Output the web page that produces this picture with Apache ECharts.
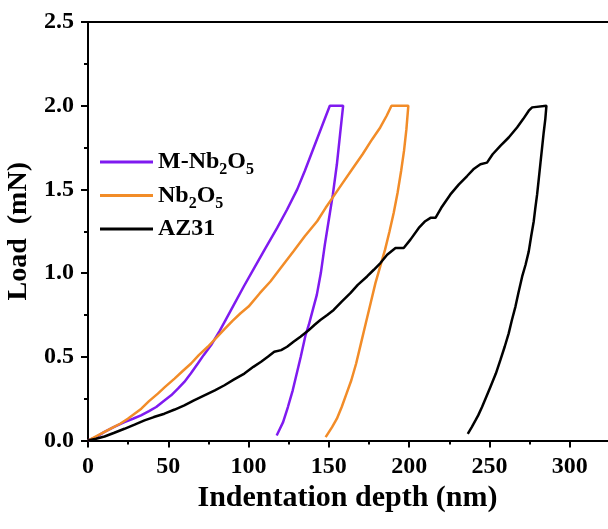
<!DOCTYPE html>
<html>
<head>
<meta charset="utf-8">
<script src="https://cdn.jsdelivr.net/npm/echarts@6/dist/echarts.min.js"></script>
<style>
html,body{margin:0;padding:0;background:#fff;}
#chart{width:608px;height:529px;}
</style>
</head>
<body>
<div id="chart"></div>
<script>
// ---- Data ----
var seriesNames = ['M-Nb2O5', 'Nb2O5', 'AZ31'];

// M-Nb2O5: loading, hold, unloading
var mDepth = [0,5,10,16,22.7,28,33,38,42.5,47,51.8,56,60,64,68.4,72,76.7,82,86,90.8,97,103.2,110,117.8,124,130.3,135,139,143,147,150.6,158.9,
              157,155,152.5,150,147.5,145,142.5,140,137.5,135.5,132.5,130,127.5,124.5,121.5,119,117.5];
var mLoad  = [0,0.02,0.05,0.08,0.11,0.13,0.15,0.175,0.20,0.235,0.27,0.31,0.35,0.40,0.46,0.51,0.57,0.655,0.725,0.81,0.92,1.025,1.14,1.27,1.38,1.50,1.61,1.71,1.81,1.91,2.0,2.0,
              1.83,1.65,1.47,1.32,1.17,1.0,0.87,0.78,0.69,0.63,0.50,0.40,0.30,0.20,0.11,0.06,0.03];

// Nb2O5: loading, hold, unloading
var nDepth = [0,5,10,15,20,24.8,29,33.2,38,43.5,48,53.9,59,64.2,69,74.6,80,85,90,95,100,107,113.6,120,128,135,142.7,148,153,158,164.5,171,177,182,186,189,199.5,
              198.3,196.8,195,192.8,190.4,187.8,185,182,179,176,173,170,167,164,161,158,155,152,150,148];
var nLoad  = [0,0.025,0.05,0.075,0.10,0.13,0.16,0.19,0.235,0.28,0.32,0.37,0.415,0.46,0.51,0.56,0.615,0.665,0.715,0.76,0.80,0.88,0.95,1.03,1.13,1.22,1.31,1.39,1.46,1.53,1.62,1.71,1.80,1.87,1.94,2.0,2.0,
              1.86,1.73,1.61,1.48,1.36,1.25,1.14,1.04,0.94,0.82,0.70,0.58,0.46,0.36,0.28,0.20,0.13,0.08,0.05,0.02];

// AZ31: loading, hold, unloading
var azDepth = [0,5,10.3,16,22.7,29,35.2,41,47.6,54,60,66,72.5,79,85,91,97.4,103,107.8,112,116,120.3,124,128,132.3,137,141,144.7,149,153,158,163.4,168,173.8,178,182.1,186.3,191.5,196.6,200.8,206,210,213.3,216.4,220,225.7,231,236.1,240,244.4,248.5,252,256.8,262,267.2,271,274.5,276.6,285.5,
               284.8,283.8,282.8,281.8,280.7,279.7,278.6,277.6,276,274.5,272.5,270.4,268,266.2,264,262,259.5,256.8,254,250.6,248,245.4,243,241.3,239,236.5];
var azLoad  = [0,0.01,0.024,0.045,0.07,0.095,0.12,0.14,0.16,0.185,0.21,0.24,0.27,0.30,0.33,0.365,0.40,0.44,0.47,0.50,0.53,0.54,0.56,0.59,0.62,0.655,0.69,0.72,0.75,0.78,0.83,0.88,0.93,0.98,1.02,1.06,1.11,1.15,1.15,1.20,1.27,1.31,1.33,1.33,1.39,1.47,1.53,1.58,1.62,1.65,1.66,1.71,1.76,1.81,1.87,1.92,1.97,1.99,2.0,
               1.92,1.84,1.75,1.66,1.56,1.47,1.39,1.31,1.22,1.13,1.05,0.98,0.88,0.80,0.72,0.64,0.56,0.48,0.40,0.32,0.26,0.20,0.15,0.12,0.08,0.04];

var xTicks = [0, 50, 100, 150, 200, 250, 300];
var yTicks = [0.0, 0.5, 1.0, 1.5, 2.0, 2.5];
var seriesColors = ['#7F1AF0', '#F28C28', '#000000'];

// ---- Build ----
function zip(a, b) { return a.map(function (v, i) { return [v, b[i]]; }); }
var serif = 'Liberation Serif, Times New Roman, serif';

var legendRich = {
  'M-Nb2O5': '{n|M-Nb}{s|2}{n|O}{s|5}',
  'Nb2O5': '{n|Nb}{s|2}{n|O}{s|5}',
  'AZ31': '{n|AZ31}{s| }'
};

var chart = echarts.init(document.getElementById('chart'), null, {renderer: 'canvas'});
var axisLineStyle = {color: '#000', width: 2};
var option = {
  backgroundColor: '#fff',
  animation: false,
  grid: {left: 88, top: 22, width: 562, height: 418.5, containLabel: false, outerBoundsMode: 'none'},
  legend: {
    orient: 'vertical',
    left: 100,
    top: 146,
    padding: 0,
    itemWidth: 53,
    itemHeight: 3,
    itemGap: 1.5,
    icon: 'rect',
    data: seriesNames,
    formatter: function (name) { return legendRich[name]; },
    textStyle: {
      rich: {
        n: {fontFamily: serif, fontWeight: 'bold', fontSize: 24, lineHeight: 32, color: '#000'},
        s: {fontFamily: serif, fontWeight: 'bold', fontSize: 16, lineHeight: 16, padding: [16, 0, 0, 0], verticalAlign: 'bottom', color: '#000'}
      }
    }
  },
  xAxis: [{
    type: 'value',
    min: 0, max: 350, interval: 50,
    position: 'bottom',
    name: 'Indentation depth (nm)',
    nameLocation: 'middle',
    nameGap: 40,
    nameTextStyle: {fontFamily: serif, fontWeight: 'bold', fontSize: 30, color: '#000', padding: [0, 43, 0, 0]},
    axisLine: {show: true, lineStyle: axisLineStyle},
    axisTick: {show: true, inside: false, length: 7, lineStyle: {color: '#000', width: 2}},
    minorTick: {show: true, splitNumber: 2, length: 4, lineStyle: {color: '#000', width: 2}},
    splitLine: {show: false},
    axisLabel: {
      margin: 14, fontFamily: serif, fontWeight: 'bold', fontSize: 24, color: '#000',
      formatter: function (v) { return xTicks.indexOf(v) >= 0 ? String(v) : ''; }
    }
  }, {
    type: 'value',
    min: 0, max: 350,
    position: 'top',
    axisLine: {show: true, onZero: false, lineStyle: axisLineStyle},
    axisTick: {show: false},
    axisLabel: {show: false},
    splitLine: {show: false}
  }],
  yAxis: [{
    type: 'value',
    min: 0, max: 2.5, interval: 0.5,
    name: 'Load  (mN)',
    nameLocation: 'middle',
    nameGap: 51,
    nameRotate: 90,
    nameTextStyle: {fontFamily: serif, fontWeight: 'bold', fontSize: 28, color: '#000'},
    axisLine: {show: true, lineStyle: axisLineStyle},
    axisTick: {show: true, inside: false, length: 7, lineStyle: {color: '#000', width: 2}},
    minorTick: {show: true, splitNumber: 2, length: 4, lineStyle: {color: '#000', width: 2}},
    splitLine: {show: false},
    axisLabel: {
      margin: 14, fontFamily: serif, fontWeight: 'bold', fontSize: 24, color: '#000',
      formatter: function (v) { return yTicks.indexOf(v) >= 0 ? v.toFixed(1) : ''; }
    }
  }],
  series: [
    {name: seriesNames[0], type: 'line', data: zip(mDepth, mLoad), showSymbol: false, symbol: 'none', smooth: false,
     lineStyle: {color: seriesColors[0], width: 2.5}, itemStyle: {color: seriesColors[0]}},
    {name: seriesNames[1], type: 'line', data: zip(nDepth, nLoad), showSymbol: false, symbol: 'none', smooth: false,
     lineStyle: {color: seriesColors[1], width: 2.5}, itemStyle: {color: seriesColors[1]}},
    {name: seriesNames[2], type: 'line', data: zip(azDepth, azLoad), showSymbol: false, symbol: 'none', smooth: false,
     lineStyle: {color: seriesColors[2], width: 2.5}, itemStyle: {color: seriesColors[2]}}
  ]
};
chart.setOption(option);
</script>
</body>
</html>
